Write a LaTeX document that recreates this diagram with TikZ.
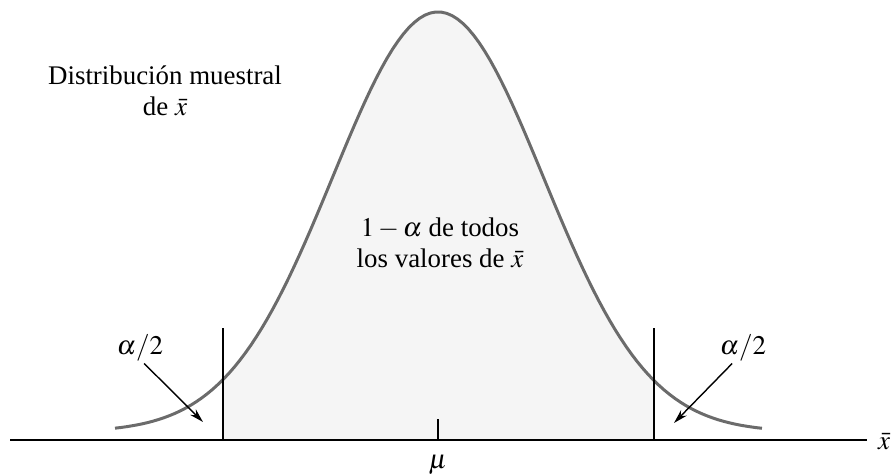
\documentclass[tikz,border=0pt]{standalone}
\usepackage{mathptmx}
\usepackage{fontspec}
\setmainfont{Liberation Serif}
\usetikzlibrary{arrows.meta}

\begin{document}
\begin{tikzpicture}[
    x=0.02cm, y=-0.02cm,
    every node/.style={font=\rmfamily\fontsize{15.3}{17.6}\selectfont},
    txt/.style={align=center, inner sep=1pt},
    bell/.style={draw=black!58, line width=1.7pt},
    cutline/.style={line width=0.8pt},
    pointer/.style={line width=0.8pt, -{Stealth[length=8pt, width=4.5pt]}},
]
\useasboundingbox (0,0) rectangle (891,475);

\coordinate (axL) at (10,440);
\coordinate (axR) at (867,440);
\coordinate (mean) at (438,440);
\coordinate (meantop) at (438,419);
\coordinate (cutL) at (223,440);
\coordinate (cutLtop) at (223,328);
\coordinate (cutR) at (654,440);
\coordinate (cutRtop) at (654,328);
\coordinate (tipL) at (203,422);
\coordinate (tipR) at (674,423);

\fill[gray!8] plot[domain=-2.15:2.16, samples=80] ({438+100*\x}, {432-420*exp(-\x*\x/2.2218)}) -- (cutR) -- (cutL) -- cycle;
\draw[bell] plot[domain=-3.23:3.24, samples=120] ({438+100*\x}, {432-420*exp(-\x*\x/2.2218)});

\draw[line width=1pt] (axL) -- (axR);
\draw[cutline] (mean) -- (meantop);
\draw[cutline] (cutL) -- (cutLtop);
\draw[cutline] (cutR) -- (cutRtop);

\node[txt] (dist) at (165,91) {Distribución muestral\\de $\bar{x}$};
\node[txt] (inner) at (440,243) {$1-\alpha$ de todos\\los valores de $\bar{x}$};
\node[txt] (alphaL) at (140,348) {$\alpha/2$};
\node[txt] (alphaR) at (743,348) {$\alpha/2$};
\node[txt] (mu) at (438,465) {$\mu$};
\node[txt, anchor=west] (xbar) at (876,442) {$\bar{x}$};

\draw[pointer] (alphaL.285) -- (tipL);
\draw[pointer] (alphaR.235) -- (tipR);
\end{tikzpicture}
\end{document}
